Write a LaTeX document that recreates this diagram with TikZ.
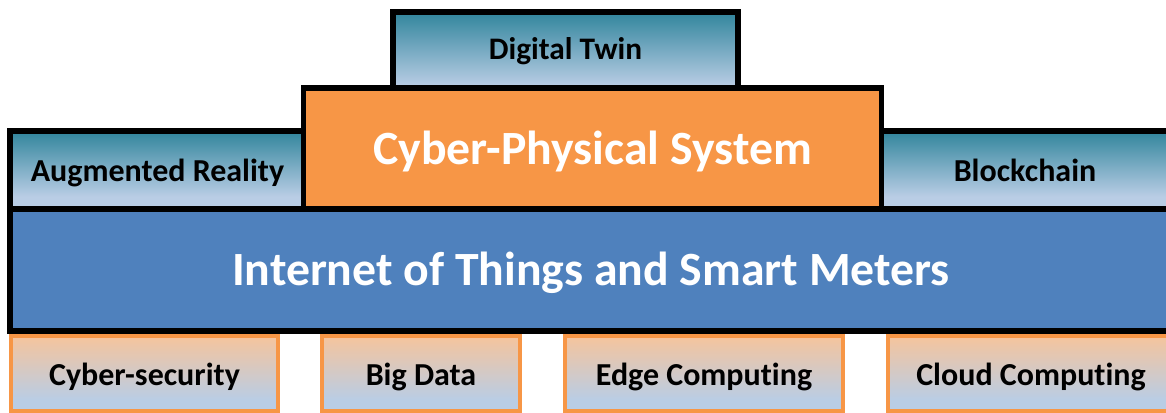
\documentclass[tikz,border=0pt]{standalone}
\usepackage{fontspec}
\setmainfont{Carlito}[Ligatures=NoCommon]
\definecolor{tealtop}{HTML}{31859C}
\definecolor{lightblue}{HTML}{B9CDE5}
\definecolor{peach}{HTML}{F6C49C}
\definecolor{cpsorange}{HTML}{F79646}
\definecolor{iotblue}{HTML}{4F81BD}
\pgfdeclareverticalshading{tealshade}{100bp}{color(0bp)=(lightblue); color(34bp)=(lightblue); color(75bp)=(tealtop); color(100bp)=(tealtop)}
\pgfdeclareverticalshading{peachshade}{100bp}{color(0bp)=(lightblue); color(32bp)=(lightblue); color(75bp)=(peach); color(100bp)=(peach)}
\tikzset{
  tealbox/.style={draw=black, line width=4pt, shading=tealshade, inner sep=0pt},
  mainbox/.style={draw=black, line width=4pt, inner sep=0pt},
  techbox/.style={draw=cpsorange, line width=3pt, shading=peachshade, inner sep=0pt},
  smalltext/.style={font=\bfseries\fontsize{24}{26}\selectfont, text=black},
  bigtext/.style={font=\bfseries\fontsize{35.8}{38}\selectfont, text=white},
}
\begin{document}
\begin{tikzpicture}[x=0.75pt,y=-0.75pt]
\useasboundingbox (0,0) rectangle (1166,413);
\clip (0,0) rectangle (1166,413);
% top layer
\node[tealbox, minimum width=345*0.75pt, minimum height=90*0.75pt] (dt) at (565.5,57) {};
\node[smalltext, font=\bfseries\fontsize{23.5}{26}\selectfont] (dtt) at (565.5,51) {Digital Twin};
\node[tealbox, minimum width=295*0.75pt, minimum height=80*0.75pt] (ar) at (157.5,171) {};
\node[smalltext] (art) at (157.5,173) {Augmented Reality};
\node[tealbox, minimum width=300*0.75pt, minimum height=80*0.75pt] (bc) at (1031,171) {};
\node[smalltext] (bct) at (1025,170) {Blockchain};
\node[mainbox, fill=cpsorange, minimum width=578*0.75pt, minimum height=122*0.75pt] (cps) at (592.5,149) {};
\node[bigtext] (cpst) at (592.5,152) {Cyber-Physical System};
\node[mainbox, fill=iotblue, minimum width=1180*0.75pt, minimum height=122*0.75pt] (iot) at (600,270) {};
\node[bigtext] (iott) at (591,273) {Internet of Things and Smart Meters};
% bottom layer
\node[techbox, minimum width=267*0.75pt, minimum height=75*0.75pt] (cs) at (144.5,373) {};
\node[smalltext] (cst) at (144.5,377) {Cyber-security};
\node[techbox, minimum width=198*0.75pt, minimum height=75*0.75pt] (bd) at (421,373) {};
\node[smalltext] (bdt) at (421,377) {Big Data};
\node[techbox, minimum width=278*0.75pt, minimum height=75*0.75pt] (ec) at (704,373) {};
\node[smalltext] (ect) at (704,377) {Edge Computing};
\node[techbox, minimum width=290*0.75pt, minimum height=75*0.75pt] (cc) at (1033,373) {};
\node[smalltext] (cct) at (1031,377) {Cloud Computing};
\end{tikzpicture}
\end{document}
